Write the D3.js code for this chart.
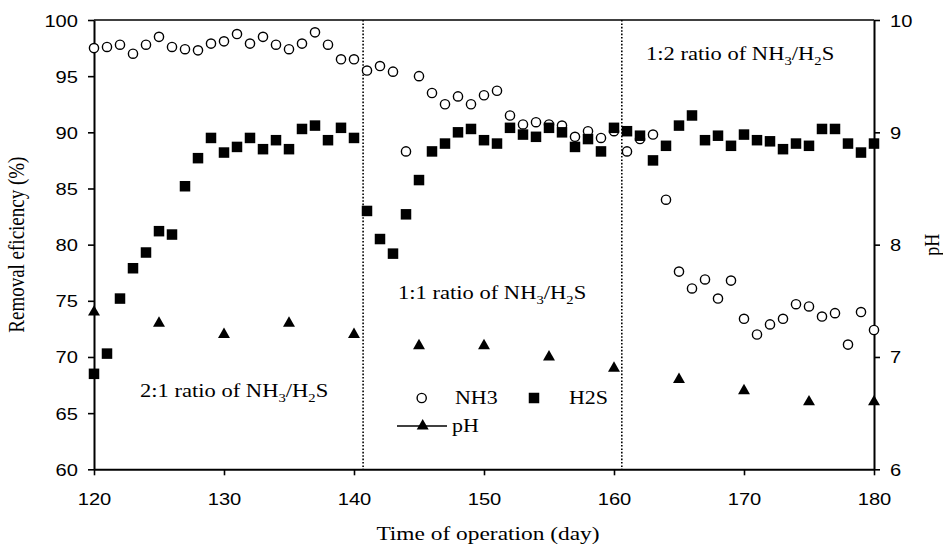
<!DOCTYPE html>
<html>
<head>
<meta charset="utf-8">
<script src="https://cdn.jsdelivr.net/npm/d3@7"></script>
<style>
  body { margin: 0; background: #fff; }
  svg { display: block; }
</style>
</head>
<body>
<script>
// Data
var days = [120,121,122,123,124,125,126,127,128,129,130,131,132,133,134,135,136,137,138,139,140,
            141,142,143,144,145,146,147,148,149,150,151,152,153,154,155,156,157,158,159,160,
            161,162,163,164,165,166,167,168,169,170,171,172,173,174,175,176,177,178,179,180];

var nh3 = [97.5,97.6,97.8,97.0,97.8,98.5,97.6,97.4,97.3,97.9,98.1,98.75,97.9,98.5,97.8,97.4,97.9,98.9,97.8,96.5,96.5,
           95.5,95.9,95.4,88.3,95.0,93.5,92.5,93.2,92.5,93.3,93.7,91.5,90.7,90.9,90.7,90.6,89.6,90.1,89.5,90.1,
           88.3,89.4,89.8,84.0,77.6,76.1,76.9,75.2,76.8,73.4,72.0,72.9,73.4,74.7,74.5,73.6,73.9,71.1,74.0,72.4];

var h2s = [68.5,70.3,75.2,77.9,79.3,81.2,80.9,85.2,87.7,89.5,88.2,88.7,89.5,88.5,89.3,88.5,90.3,90.6,89.3,90.4,89.5,
           83.0,80.5,79.2,82.7,85.75,88.3,89.0,90.0,90.3,89.3,89.0,90.4,89.8,89.6,90.4,90.0,88.7,89.4,88.3,90.4,
           90.1,89.7,87.5,88.8,90.6,91.5,89.3,89.7,88.8,89.8,89.3,89.2,88.5,89.0,88.8,90.3,90.3,89.0,88.2,89.0];

var phDays = [120,125,130,135,140,145,150,155,160,165,170,175,180];
var ph = [7.4,7.3,7.2,7.3,7.2,7.1,7.1,7.0,6.9,6.8,6.7,6.6,6.6];

var phaseDays = [140.7, 160.6];
var leftTicks = [60,65,70,75,80,85,90,95,100];
var rightTicks = [6,7,8,9,10];
var xTicks = [120,130,140,150,160,170,180];

// layout
var margin = {top: 20, right: 69, bottom: 76.7, left: 94},
    W = 943, H = 546,
    width = W - margin.left - margin.right,
    height = H - margin.top - margin.bottom;

var SX = 1.22; // horizontal stretch of the text in the picture
var serif = "'Liberation Serif', 'Times New Roman', serif";
var sans = "'Liberation Sans', Arial, sans-serif";

var svg = d3.select("body").append("svg")
    .attr("width", W)
    .attr("height", H);

var g = svg.append("g")
    .attr("transform", "translate(" + margin.left + "," + margin.top + ")");

var x = d3.scaleLinear().domain([120, 180]).range([0, width]);
var y = d3.scaleLinear().domain([60, 100]).range([height, 0]);
var y2 = d3.scaleLinear().domain([6, 10]).range([height, 0]);

// stretched text helper
function stext(parent, tx, ty, str, size, anchor) {
  return parent.append("text")
    .attr("transform", "translate(" + tx + "," + ty + ") scale(" + SX + ",1)")
    .attr("font-family", serif)
    .attr("font-size", size)
    .attr("text-anchor", anchor || "start")
    .attr("fill", "#000")
    .text(str);
}

// top border
g.append("line")
    .attr("x1", 0).attr("x2", width)
    .attr("y1", 0).attr("y2", 0)
    .style("stroke", "#000").style("stroke-width", 1.3);

// phase separators
g.selectAll(".phase")
    .data(phaseDays)
    .enter().append("line")
    .attr("class", "phase")
    .attr("x1", function(d) { return x(d); })
    .attr("x2", function(d) { return x(d); })
    .attr("y1", 0).attr("y2", height)
    .style("stroke", "#000")
    .style("stroke-width", 1.6)
    .style("stroke-dasharray", "1.6,1.8");

// axes
function styleAxis(sel, dx, dy, anchor) {
  sel.select(".domain").style("stroke", "#000").style("stroke-width", 2);
  sel.selectAll(".tick line").style("stroke", "#000").style("stroke-width", 1.6);
  sel.selectAll(".tick text")
      .attr("x", null).attr("y", null).attr("dy", null)
      .attr("font-family", sans)
      .attr("font-size", 16.5)
      .attr("fill", "#000")
      .attr("text-anchor", anchor)
      .attr("transform", "translate(" + dx + "," + dy + ") scale(" + SX + ",1)");
}

var gx = g.append("g")
    .attr("transform", "translate(0," + height + ")")
    .call(d3.axisBottom(x).tickValues(xTicks).tickFormat(d3.format("d")).tickSize(6).tickSizeOuter(0));
styleAxis(gx, 0, 36, "middle");

var gy = g.append("g")
    .call(d3.axisLeft(y).tickValues(leftTicks).tickFormat(d3.format("d")).tickSize(6).tickSizeOuter(0));
styleAxis(gy, -16, 6, "end");

var gy2 = g.append("g")
    .attr("transform", "translate(" + width + ",0)")
    .call(d3.axisRight(y2).tickValues(rightTicks).tickFormat(d3.format("d")).tickSize(6).tickSizeOuter(0));
styleAxis(gy2, 16, 6, "start");

// NH3 - open circles
g.selectAll(".nh3")
    .data(days)
    .enter().append("circle")
    .attr("class", "nh3")
    .attr("cx", function(d) { return x(d); })
    .attr("cy", function(d, i) { return y(nh3[i]); })
    .attr("r", 4.6)
    .style("fill", "#fff")
    .style("stroke", "#000")
    .style("stroke-width", 1.4);

// H2S - filled squares
var sq = 10.5;
g.selectAll(".h2s")
    .data(days)
    .enter().append("rect")
    .attr("class", "h2s")
    .attr("x", function(d) { return x(d) - sq / 2; })
    .attr("y", function(d, i) { return y(h2s[i]) - sq / 2; })
    .attr("width", sq).attr("height", sq)
    .style("fill", "#000");

// pH - filled triangles
var tri = d3.symbol().type(d3.symbolTriangle).size(62);
g.selectAll(".ph")
    .data(phDays)
    .enter().append("path")
    .attr("class", "ph")
    .attr("d", tri)
    .attr("transform", function(d, i) { return "translate(" + x(d) + "," + y2(ph[i]) + ")"; })
    .style("fill", "#000");

// phase annotations
function ratioLabel(tx, ty, a) {
  var t = stext(svg, tx, ty, "", 18.5);
  t.append("tspan").text(a + " ratio of NH");
  t.append("tspan").attr("font-size", 12).attr("dy", 5).text("3");
  t.append("tspan").attr("dy", -5).text("/H");
  t.append("tspan").attr("font-size", 12).attr("dy", 5).text("2");
  t.append("tspan").attr("dy", -5).text("S");
}
ratioLabel(140, 397, "2:1");
ratioLabel(398, 299, "1:1");
ratioLabel(646, 60, "1:2");

// legend
svg.append("circle")
    .attr("cx", 421.7).attr("cy", 398).attr("r", 4.6)
    .style("fill", "#fff").style("stroke", "#000").style("stroke-width", 1.4);
stext(svg, 455, 404, "NH3", 18);
svg.append("rect")
    .attr("x", 534 - sq / 2).attr("y", 398 - sq / 2)
    .attr("width", sq).attr("height", sq)
    .style("fill", "#000");
stext(svg, 569, 404, "H2S", 18);
svg.append("line")
    .attr("x1", 397).attr("x2", 447)
    .attr("y1", 426).attr("y2", 426)
    .style("stroke", "#000").style("stroke-width", 1.6);
svg.append("path")
    .attr("d", tri)
    .attr("transform", "translate(422.7,426)")
    .style("fill", "#000");
stext(svg, 452, 432, "pH", 18);

// axis titles
stext(svg, 488, 540, "Time of operation (day)", 18, "middle")
    .attr("transform", "translate(488,540) scale(1.3,1)");

svg.append("text")
    .attr("transform", "translate(24," + (margin.top + height / 2) + ") rotate(-90) scale(1," + SX + ")")
    .attr("font-family", serif)
    .attr("font-size", 19)
    .attr("text-anchor", "middle")
    .text("Removal eficiency (%)");

svg.append("text")
    .attr("transform", "translate(939," + (margin.top + height / 2) + ") rotate(-90) scale(1," + SX + ")")
    .attr("font-family", serif)
    .attr("font-size", 18)
    .attr("text-anchor", "middle")
    .text("pH");
</script>
</body>
</html>
